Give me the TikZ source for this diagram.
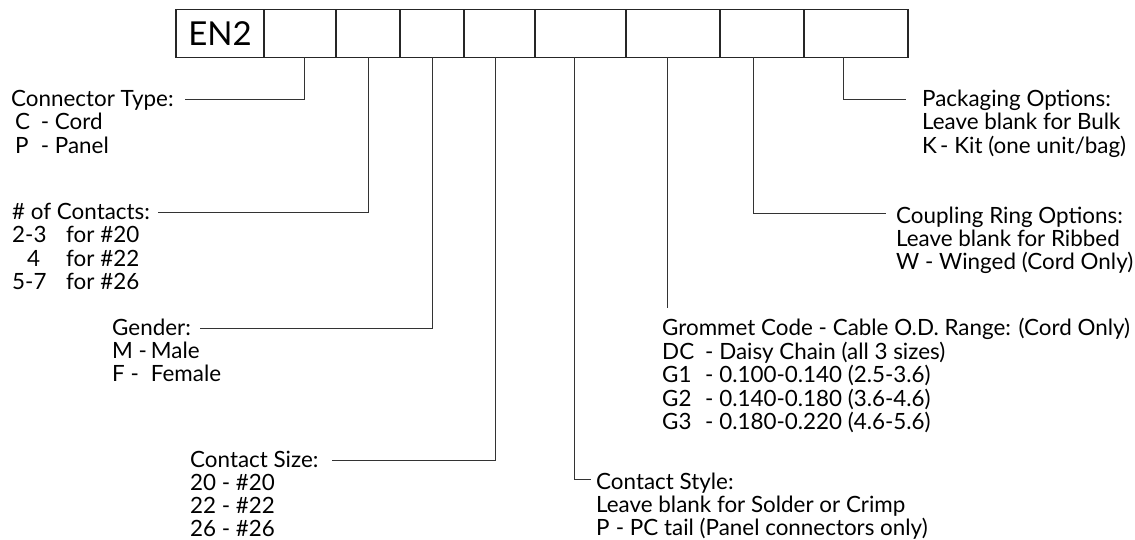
\documentclass[tikz,border=0pt]{standalone}
\usepackage{fontspec}
\setmainfont{Lato}
\newcommand\lblfont{\fontsize{22.4}{23.4}\selectfont}
\newcommand\bigfont{\fontsize{33}{36}\selectfont}
\newcommand\cbx[2]{\makebox[#1][l]{#2}}
\newcommand\rows[1]{\vtop{#1}}
\begin{document}
\begin{tikzpicture}[x=1pt,y=-1pt,
  cell/.style={draw=black!85, line width=1.1pt, minimum height=48pt, inner sep=0pt, outer sep=0pt, anchor=west},
  head/.style={anchor=base west, inner sep=0pt, font=\lblfont, text height=14pt, text depth=0pt},
  body/.style={anchor=base west, inner sep=0pt, font=\lblfont},
  lead/.style={draw=black!80, line width=0.8pt}]
\useasboundingbox (0,0) rectangle (1135,540);
% code boxes
\node[cell, minimum width=88pt, font=\bigfont] (c1) at (176,33.3) {EN2};
\node[cell, minimum width=72pt] (c2) at (c1.east) {};
\node[cell, minimum width=64pt] (c3) at (c2.east) {};
\node[cell, minimum width=64pt] (c4) at (c3.east) {};
\node[cell, minimum width=71pt] (c5) at (c4.east) {};
\node[cell, minimum width=91pt] (c6) at (c5.east) {};
\node[cell, minimum width=94pt] (c7) at (c6.east) {};
\node[cell, minimum width=84pt] (c8) at (c7.east) {};
\node[cell, minimum width=104pt] (c9) at (c8.east) {};
% tap points
\coordinate (t1) at ([xshift=4pt]c2.south);
\coordinate (t2) at (c3.south);
\coordinate (t3) at (c4.south);
\coordinate (t4) at ([xshift=-4.5pt]c5.south);
\coordinate (t5) at ([xshift=-6.5pt]c6.south);
\coordinate (t6) at ([xshift=-6pt]c7.south);
\coordinate (t7) at ([xshift=-9pt]c8.south);
\coordinate (t8) at ([xshift=-13pt]c9.south);
% headings
\node[head] (h1) at (11,106.7) {Connector Type:};
\node[head] (h2) at (12,219.5) {\# of Contacts:};
\node[head] (h3) at (112,335) {Gender:};
\node[head] (h4) at (190,467) {Contact Size:};
\node[head] (h5) at (596,489.5) {Contact Style:};
\node[head] (h6) at (662,335.7) {Grommet Code - Cable O.D. Range: (Cord Only)};
\node[head] (h7) at (896,223) {Coupling Ring Options:};
\node[head] (h8) at (922,106.7) {Packaging Options:};
% bodies
\node[body] (b1) at (15,130) {\rows{\hbox{\cbx{25.7pt}{C}- Cord}\hbox{\cbx{25.7pt}{P}- Panel}}};
\node[body] (b2) at (12,243) {\rows{\hbox{\cbx{54pt}{2-3}for \#20}\hbox{\cbx{54pt}{\hspace{15pt}4}for \#22}\hbox{\cbx{54pt}{5-7}for \#26}}};
\node[body] (b3) at (112,358.5) {\rows{\hbox{\cbx{38.7pt}{M -}Male}\hbox{\cbx{38.7pt}{F -}Female}}};
\node[body] (b4) at (190,490.2) {\rows{\baselineskip=23.2pt\hbox{20 - \#20}\hbox{22 - \#22}\hbox{26 - \#26}}};
\node[body] (b5) at (596,512.3) {\rows{\baselineskip=22.8pt\hbox{Leave blank for Solder or Crimp}\hbox{\cbx{19.7pt}{P}- PC tail (Panel connectors only)}}};
\node[body] (b6) at (662,359.2) {\rows{\hbox{\cbx{43pt}{DC}- Daisy Chain (all 3 sizes)}\hbox{\cbx{43pt}{G1}- 0.100-0.140 (2.5-3.6)}\hbox{\cbx{43pt}{G2}- 0.140-0.180 (3.6-4.6)}\hbox{\cbx{43pt}{G3}- 0.180-0.220 (4.6-5.6)}}};
\node[body] (b7) at (896,246.4) {\rows{\hbox{Leave blank for Ribbed}\hbox{W - Winged (Cord Only)}}};
\node[body] (b8) at (922,130) {\rows{\hbox{Leave blank for Bulk}\hbox{\cbx{18pt}{K}- Kit (one unit/bag)}}};
% leaders
\draw[lead, shorten >=11pt] (t1) |- (h1.east);
\draw[lead, shorten >=8pt] (t2) |- (h2.east);
\draw[lead, shorten >=9pt] (t3) |- (h3.east);
\draw[lead, shorten >=13pt] (t4) |- (h4.east);
\draw[lead, shorten >=5pt] (t5) |- ([yshift=3pt]h5.west);
\draw[lead, shorten >=13.7pt] (t6) -- (t6 |- h6.north);
\draw[lead, shorten >=10pt] (t7) |- ([yshift=3pt]h7.west);
\draw[lead, shorten >=16pt] (t8) |- (h8.west);
\end{tikzpicture}
\end{document}
